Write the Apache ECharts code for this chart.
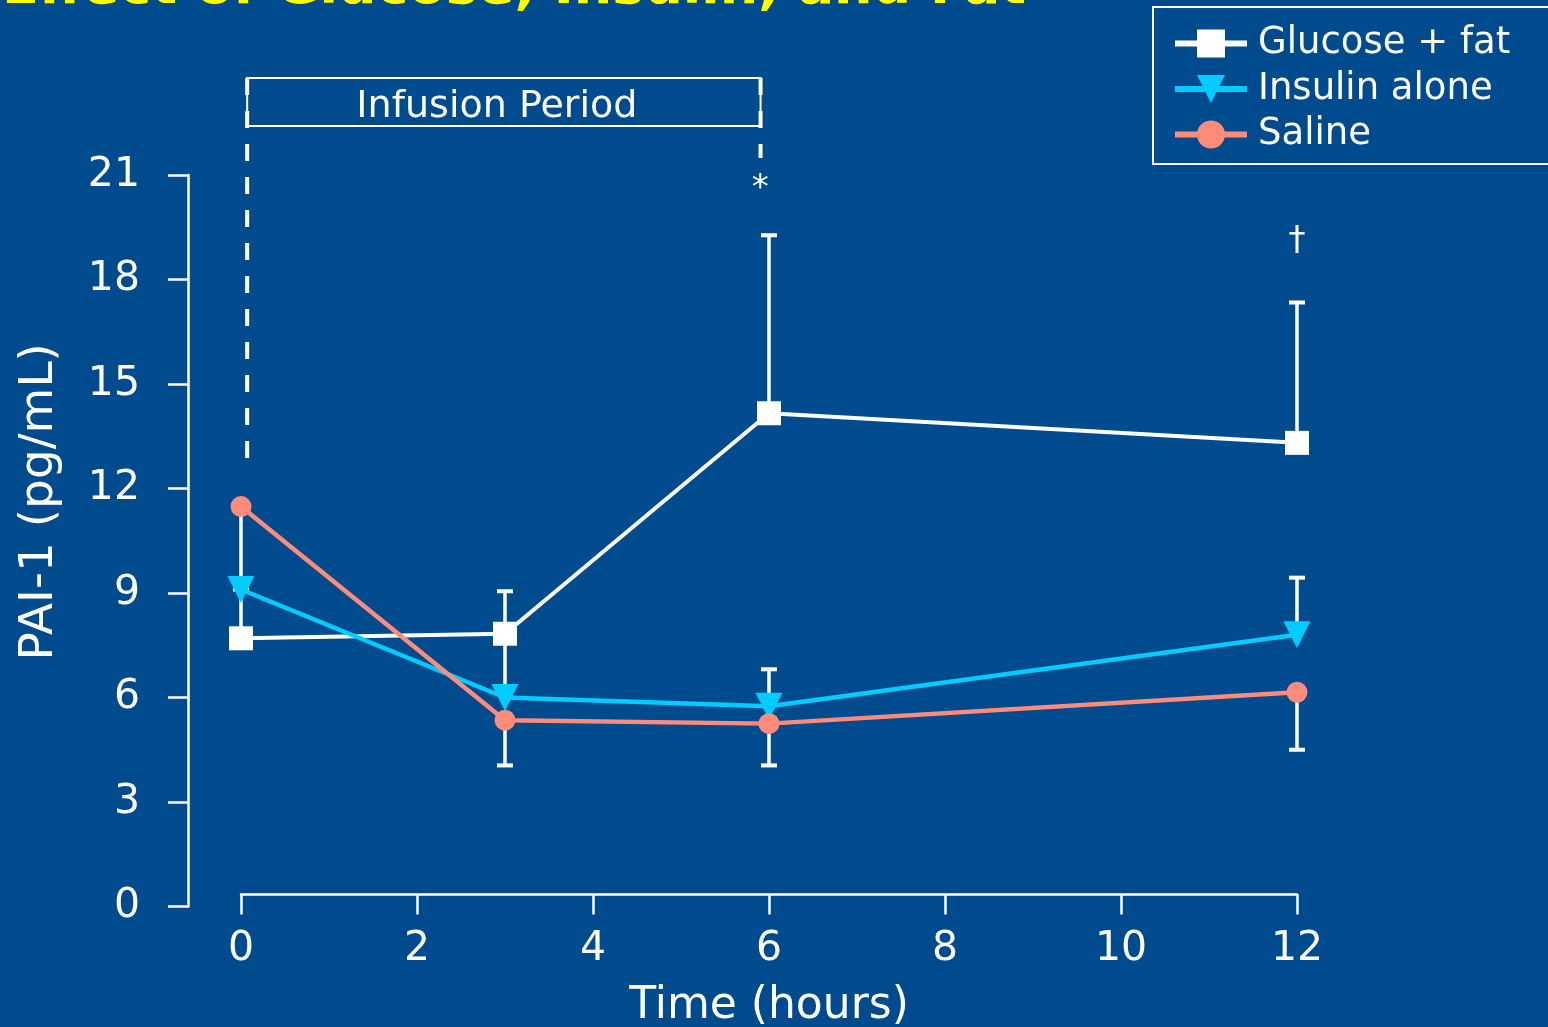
<!DOCTYPE html>
<html><head><meta charset="utf-8">
<script src="https://cdn.jsdelivr.net/npm/echarts@6/dist/echarts.min.js"></script>
<style>html,body{margin:0;padding:0;background:#004B8D}#c{width:1548px;height:1027px}</style>
</head><body><div id="c"></div>
<script>
// ---- data ----
const titleText = 'Effect of Glucose, Insulin, and Fat';
const seriesNames = ['Glucose + fat', 'Insulin alone', 'Saline'];
const times = [0, 3, 6, 12];
const glucoseFat = [7.7, 7.83, 14.16, 13.31];
const insulinAlone = [9.1, 6.0, 5.75, 7.8];
const saline = [11.48, 5.35, 5.25, 6.15];
// error-bar far ends (bars run from the mean to these values)
const glucoseFatUpper = [9.1, 9.05, 19.27, 17.34];
const insulinAloneUpper = [11.48, 7.83, 6.81, 9.44];
const salineLower = [null, 4.05, 4.05, 4.5];
const xTickLabels = ['0', '2', '4', '6', '8', '10', '12'];
const yTickLabels = ['0', '3', '6', '9', '12', '15', '18', '21'];
const xAxisTitle = 'Time (hours)';
const yAxisTitle = 'PAI-1 (pg/mL)';
const infusionLabel = 'Infusion Period';
const infusionPeriod = [0.07, 5.87];
const sigMarks = ['*', '\u2020'];
const sigTimes = [5.9, 12];
const sigValues = [20.6, 19.1];

// ---- styles ----
const F = '"DejaVu Sans", Verdana, sans-serif';
const WHITE = '#ffffff', CYAN = '#00CCFF', SALMON = '#FF8C7A', BG = '#004B8D';

const chart = echarts.init(document.getElementById('c'), null, {renderer: 'canvas'});

function errData(means, ends) {
  const out = [];
  times.forEach((t, i) => { if (ends[i] != null) out.push([t, means[i], ends[i]]); });
  return out;
}
function errRender(params, api) {
  const t = api.value(0), a = api.value(1), b = api.value(2);
  const p1 = api.coord([t, a]), p2 = api.coord([t, b]);
  return {type: 'group', children: [
    {type: 'line', shape: {x1: p1[0], y1: p1[1], x2: p2[0], y2: p2[1]}, style: {stroke: WHITE, lineWidth: 3.5}},
    {type: 'line', shape: {x1: p2[0] - 8, y1: p2[1], x2: p2[0] + 8, y2: p2[1]}, style: {stroke: WHITE, lineWidth: 4}}
  ]};
}
function errSeries(means, ends) {
  return {type: 'custom', renderItem: errRender, data: errData(means, ends),
    encode: {x: 0, y: [1, 2]}, z: 1, silent: true};
}
function pairs(vals) { return times.map((t, i) => [t, vals[i]]); }

chart.setOption({
  backgroundColor: BG,
  animation: false,
  title: {text: titleText, left: 2, top: -38, padding: 0,
    textStyle: {color: '#FFFF00', fontSize: 54, fontWeight: 'bold', fontFamily: F, lineHeight: 54}},
  legend: {
    data: seriesNames, orient: 'vertical', left: 1153, top: 7, padding: [18, 60, 11, 19],
    itemWidth: 72, itemHeight: 35, itemGap: 8.5, borderColor: WHITE, borderWidth: 2,
    textStyle: {color: WHITE, fontSize: 37, fontFamily: F, lineHeight: 35, padding: [0, 0, 0, 6]},
    lineStyle: {width: 6}
  },
  grid: {left: 241, right: 251, top: 175, bottom: 120.5, containLabel: false, outerBoundsMode: 'none'},
  xAxis: {
    type: 'value', min: 0, max: 12, interval: 2, offset: -12,
    name: xAxisTitle, nameLocation: 'middle', nameGap: 90,
    nameTextStyle: {color: WHITE, fontSize: 44, fontFamily: F},
    axisLine: {onZero: false, lineStyle: {color: WHITE, width: 2.5}},
    axisTick: {length: 20, lineStyle: {color: WHITE, width: 2.5}},
    axisLabel: {color: WHITE, fontSize: 41, fontFamily: F, margin: 34,
      formatter: (v) => xTickLabels[Math.round(v / 2)]},
    splitLine: {show: false}
  },
  yAxis: {
    type: 'value', min: 0, max: 21, interval: 3, offset: 53,
    name: yAxisTitle, nameLocation: 'middle', nameGap: 125,
    nameTextStyle: {color: WHITE, fontSize: 47, fontFamily: F, padding: [0, 0, 0, 78]},
    axisLine: {show: true, onZero: false, lineStyle: {color: WHITE, width: 2.5}},
    axisTick: {show: true, length: 20, lineStyle: {color: WHITE, width: 2.5}},
    axisLabel: {color: WHITE, fontSize: 41, fontFamily: F, margin: 48,
      formatter: (v) => yTickLabels[Math.round(v / 3)]},
    splitLine: {show: false}
  },
  series: [
    errSeries(glucoseFat, glucoseFatUpper),
    errSeries(insulinAlone, insulinAloneUpper),
    errSeries(saline, salineLower),
    {name: seriesNames[0], type: 'line', data: pairs(glucoseFat), symbol: 'rect', symbolSize: 24,
      lineStyle: {color: WHITE, width: 4}, itemStyle: {color: WHITE}, z: 3},
    {name: seriesNames[1], type: 'line', data: pairs(insulinAlone), symbol: 'triangle', symbolRotate: 180,
      symbolSize: [27, 27], lineStyle: {color: CYAN, width: 4.5}, itemStyle: {color: CYAN}, z: 3},
    {name: seriesNames[2], type: 'line', data: pairs(saline), symbol: 'circle', symbolSize: 21,
      lineStyle: {color: SALMON, width: 4.5}, itemStyle: {color: SALMON}, z: 3}
  ]
});

// annotations placed through the axes' scales
const px = (t, v) => chart.convertToPixel({gridIndex: 0}, [t, v]);
const xs = px(infusionPeriod[0], 0)[0], xe = px(infusionPeriod[1], 0)[0] + 3;
const boxTop = 78, boxBottom = 126, leftDashEnd = 462, rightDashEnd = 158;
const graphics = [
  {type: 'rect', shape: {x: xs, y: boxTop, width: xe - xs, height: boxBottom - boxTop},
    style: {fill: null, stroke: WHITE, lineWidth: 2}},
  {type: 'line', shape: {x1: xs, y1: boxTop, x2: xs, y2: leftDashEnd},
    style: {stroke: WHITE, lineWidth: 4, lineDash: [17, 16]}},
  {type: 'line', shape: {x1: xe, y1: boxTop, x2: xe, y2: rightDashEnd},
    style: {stroke: WHITE, lineWidth: 4, lineDash: [17, 16]}},
  {type: 'text', x: (xs + xe) / 2 - 7, y: (boxTop + boxBottom) / 2 + 5,
    style: {text: infusionLabel, fill: WHITE, font: '38px ' + F, textAlign: 'center', textVerticalAlign: 'middle'}}
];
sigMarks.forEach((m, i) => {
  const p = px(sigTimes[i], sigValues[i]);
  graphics.push({type: 'text', x: p[0], y: p[1],
    style: {text: m, fill: WHITE, font: '34px ' + F, textAlign: 'center', textVerticalAlign: 'middle'}});
});
chart.setOption({graphic: graphics});
</script>
</body></html>
